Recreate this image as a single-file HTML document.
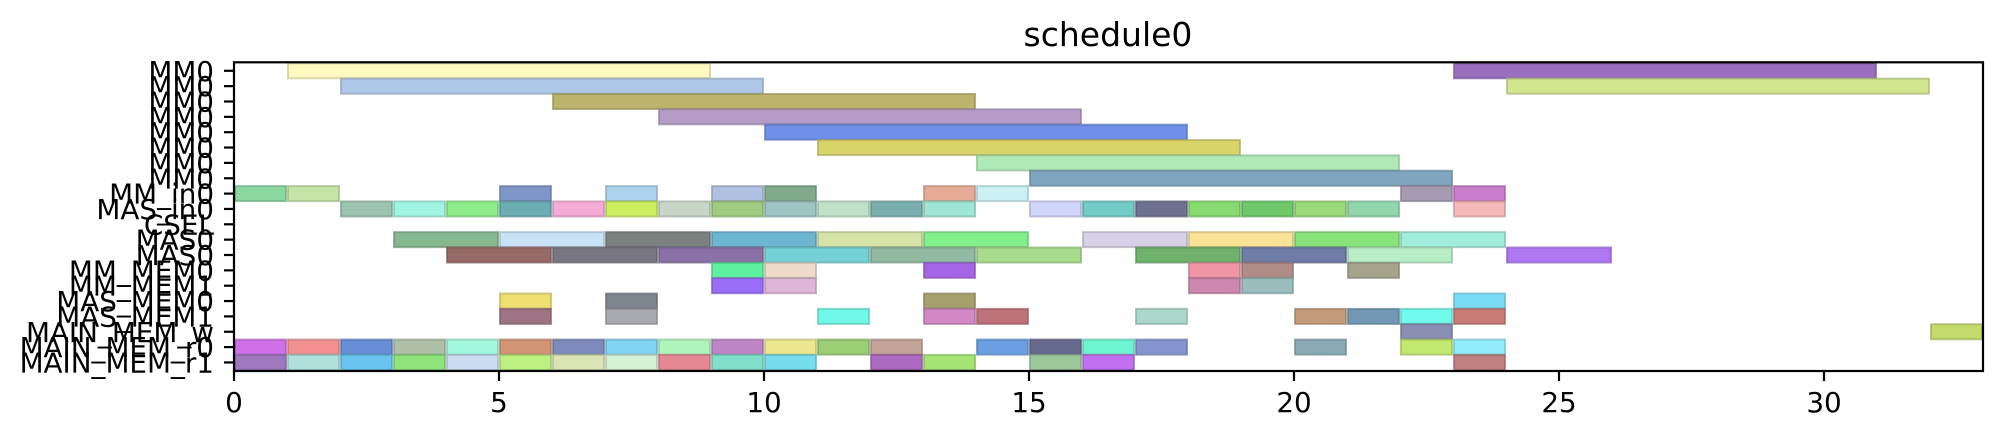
<!DOCTYPE html>
<html><head><meta charset="utf-8"><style>
html,body{margin:0;padding:0;background:#fff;}
svg{display:block;font-family:"DejaVu Sans","Liberation Sans",sans-serif;}
</style></head><body>
<svg id="chart" width="1997" height="438" viewBox="0 0 1997 438" xmlns="http://www.w3.org/2000/svg">
<text x="1108" y="46" font-size="33" text-anchor="middle" fill="#000">schedule0</text>
<g id="bars"></g>
<g id="yaxis"></g>
<g id="xaxis"></g>
<rect x="234" y="62.3" width="1749" height="308.7" fill="none" stroke="#000" stroke-width="2.2"/>
</svg>
<script>
const rowLabels = ["MM0","MM0","MM0","MM0","MM0","MM0","MM0","MM0","MM_in0","MAS_in0","CSEL","MAS0","MAS0","MM_MEM0","MM_MEM1","MAS_MEM0","MAS_MEM1","MAIN_MEM_w","MAIN_MEM_r0","MAIN_MEM_r1"];
const xTicks = [0,5,10,15,20,25,30];
const barRow = [0,0,1,1,2,3,4,5,6,7,
8,8,8,8,8,8,8,8,8,8,
9,9,9,9,9,9,9,9,9,9,9,9,9,9,9,9,9,9,9,9,
11,11,11,11,11,11,11,11,11,11,
12,12,12,12,12,12,12,12,12,12,
13,13,13,13,13,13,
14,14,14,14,
15,15,15,15,
16,16,16,16,16,16,16,16,16,16,
17,17,
18,18,18,18,18,18,18,18,18,18,18,18,18,18,18,18,18,18,18,18,
19,19,19,19,19,19,19,19,19,19,19,19,19,19,19,19];
const barStart = [1,23,2,24,6,8,10,11,14,15,
0,1,5,7,9,10,13,14,22,23,
2,3,4,5,6,7,8,9,10,11,12,13,15,16,17,18,19,20,21,23,
3,5,7,9,11,13,16,18,20,22,
4,6,8,10,12,14,17,19,21,24,
9,10,13,18,19,21,
9,10,18,19,
5,7,13,23,
5,7,11,13,14,17,20,21,22,23,
22,32,
0,1,2,3,4,5,6,7,8,9,10,11,12,14,15,16,17,20,22,23,
0,1,2,3,4,5,6,7,8,9,10,12,13,15,16,23];
const barEnd = [9,31,10,32,14,16,18,19,22,23,
1,2,6,8,10,11,14,15,23,24,
3,4,5,6,7,8,9,10,11,12,13,14,16,17,18,19,20,21,22,24,
5,7,9,11,13,15,18,20,22,24,
6,8,10,12,14,16,19,21,23,26,
10,11,14,19,20,22,
10,11,19,20,
6,8,14,24,
6,8,12,14,15,18,21,22,23,24,
23,33,
1,2,3,4,5,6,7,8,9,10,11,12,13,15,16,17,18,21,23,24,
1,2,3,4,5,6,7,8,9,10,11,13,14,16,17,24];
const barColor = ["#fff8bf","#9a6fc0","#b0c8e8","#d0e68f","#bcb46c","#b49cc6","#6f8fe8","#d8d46a","#b0eab6","#7fa6be",
"#88d8a0","#c6e4a6","#7f96c8","#acd2ee","#afc0e0","#80aa8c","#e6ab96","#cbf1f4","#a69bb0","#c97dcc",
"#9cc4ae","#a0f4e4","#8cee88","#6aaeb4","#f4acd6","#ccf060","#c8d6c8","#9ecc80","#9ec4c4","#c0e0c8","#7aaeae","#a0e6d6","#d0d6fc","#72ccc6","#6e7290","#86da70","#6ec86a","#9ad878","#90d6aa","#f6baba",
"#86b890","#cae2f6","#7a8280","#6cb6d2","#d6e2a6","#82f08a","#d8d0e6","#fae296","#88e47a","#a2ecdc",
"#966a66","#787680","#8a72a6","#74d2d6","#92baa2","#a8dc8c","#6eb26c","#707ca8","#b8eec6","#ae78f2",
"#5ef09e","#eedcc8","#a466e4","#f096a6","#b08c88","#a6a48c",
"#9a6ef8","#e0b6d6","#cc88ae","#9abebe",
"#ede070","#7e8690","#a6a06c","#78dcf6",
"#9e7484","#a8aab0","#70f8e8","#d488c6","#be727a","#acd8cc","#c49c7c","#7298b6","#70fcec","#c87c78",
"#8a8eb0","#c4da6c",
"#d070e8","#f29090","#688ed6","#b0c0a8","#a2f8dc","#d29474","#7e8abc","#80d4f2","#b0f4bc","#be86c6","#ece890","#9ace74","#c4a498","#6aa0e2","#666a8e","#6ef4d0","#8494d0","#8aaab4","#c2e870","#90ecfc",
"#a078c0","#b0e0dc","#68c4ee","#90e47c","#ccdcf2","#bcf080","#dae4b4","#d4f2d4","#e68894","#80e0cc","#76dcee","#ac6ac0","#a6e474","#9cc89c","#c070f0","#c08080"];

const NS = "http://www.w3.org/2000/svg";
const X0 = 234, X1 = 1983, XMAX = 33;
const YTOP = 62.3, YBOT = 371, ROWH = 15.35, BARH = 17;
function xs(v){ return X0 + (X1 - X0) * v / XMAX; }
function yc(i){ return YTOP + BARH/2 + i * ROWH; }
function darker(hex){
  const n = parseInt(hex.slice(1),16);
  const r=Math.round(((n>>16)&255)*0.8), g=Math.round(((n>>8)&255)*0.8), b=Math.round((n&255)*0.8);
  return "rgb("+r+","+g+","+b+")";
}
const gb = document.getElementById("bars");
for (let k = 0; k < barRow.length; k++) {
  const r = document.createElementNS(NS, "rect");
  r.setAttribute("x", xs(barStart[k]) + 1);
  r.setAttribute("y", yc(barRow[k]) - BARH/2 + 1);
  r.setAttribute("width", xs(barEnd[k]) - xs(barStart[k]) - 2);
  r.setAttribute("height", BARH - 2);
  r.setAttribute("fill", barColor[k]);
  r.setAttribute("stroke", darker(barColor[k]));
  r.setAttribute("stroke-opacity", "0.7");
  r.setAttribute("stroke-width", "2");
  
  
  gb.appendChild(r);
}
const gy = document.getElementById("yaxis");
for (let i = 0; i < rowLabels.length; i++) {
  const t = document.createElementNS(NS, "line");
  t.setAttribute("x1", X0 - 10); t.setAttribute("x2", X0);
  t.setAttribute("y1", yc(i)); t.setAttribute("y2", yc(i));
  t.setAttribute("stroke", "#000"); t.setAttribute("stroke-width", "2.2");
  
  
  gy.appendChild(t);
  const l = document.createElementNS(NS, "text");
  l.setAttribute("x", X0 - 20); l.setAttribute("y", yc(i) + 10);
  l.setAttribute("font-size", "27.8"); l.setAttribute("text-anchor", "end");
  l.textContent = rowLabels[i];
  
  
  gy.appendChild(l);
}
const gx = document.getElementById("xaxis");
for (const v of xTicks) {
  const t = document.createElementNS(NS, "line");
  t.setAttribute("x1", xs(v)); t.setAttribute("x2", xs(v));
  t.setAttribute("y1", YBOT); t.setAttribute("y2", YBOT + 10);
  t.setAttribute("stroke", "#000"); t.setAttribute("stroke-width", "2.2");
  
  
  gx.appendChild(t);
  const l = document.createElementNS(NS, "text");
  l.setAttribute("x", xs(v)); l.setAttribute("y", YBOT + 41);
  l.setAttribute("font-size", "27.8"); l.setAttribute("text-anchor", "middle");
  l.textContent = String(v);
  
  
  gx.appendChild(l);
}
</script>
</body></html>
